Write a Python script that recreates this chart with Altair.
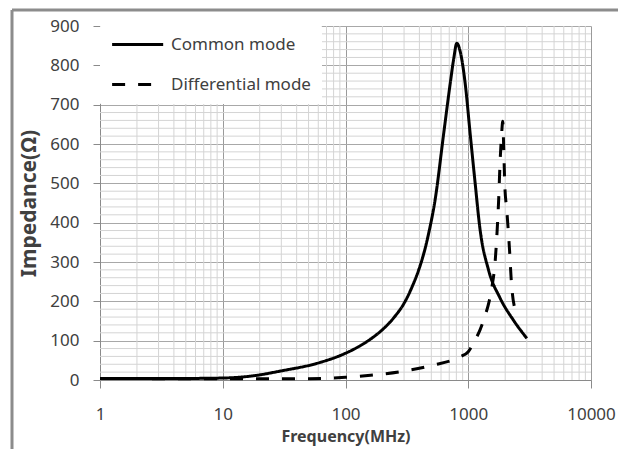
import altair as alt
import pandas as pd

# ---- data ----
cm_freq = [1, 2, 5, 10, 17, 31, 58, 100, 130, 160, 200, 250, 300, 350, 400, 450, 476, 537, 631, 713, 760, 807, 860, 944, 1036, 1130, 1250, 1462, 1819, 2335, 3000]
cm_z = [4, 4, 4, 5, 10, 24, 42, 68, 86, 104, 128, 160, 195, 238, 285, 340, 373, 458, 627, 754, 815, 856, 835, 754, 627, 510, 381, 280, 208, 152, 106]

dm_freq = [1, 10, 40, 100, 160, 280, 520, 860, 1000, 1130, 1250, 1370, 1480, 1560, 1660, 1720, 1770, 1820, 1870, 1910, 1945, 1985, 2060, 2170, 2240, 2410]
dm_z = [4, 3, 3, 7, 12, 21, 38, 59, 72, 100, 128, 163, 200, 237, 305, 381, 460, 560, 625, 658, 590, 495, 432, 330, 254, 178]

series_names = ["Common mode", "Differential mode"]

x_major = [1, 10, 100, 1000, 10000]
x_minor = [k * d for d in [1, 10, 100, 1000] for k in range(2, 10)]
y_major = list(range(0, 1000, 100))
y_minor = [v for v in range(20, 900, 20) if v % 100 != 0]

df = pd.concat([
    pd.DataFrame({"f": cm_freq, "z": cm_z, "mode": series_names[0]}),
    pd.DataFrame({"f": dm_freq, "z": dm_z, "mode": series_names[1]}),
])

FONT = "Noto Sans"
TXT = "#404040"

xscale = alt.Scale(type="log", domain=[1, 10000], nice=False)
yscale = alt.Scale(domain=[0, 900], nice=False, zero=True)

xaxis = alt.Axis(values=x_major, format="d", title="Frequency(MHz)",
                 grid=True, gridColor="#9a9a9a", domainColor="#8a8a8a",
                 tickColor="#8a8a8a", tickSize=8, labelPadding=18,
                 labelFont=FONT, labelFontSize=17, labelColor=TXT,
                 labelOverlap=False,
                 titleFont=FONT, titleFontSize=16, titleFontWeight="bold",
                 titleColor=TXT, titlePadding=6, labelFlush=False)
yaxis = alt.Axis(values=y_major, title="Impedance(Ω)",
                 grid=True, gridColor="#a8a8a8", domainColor="#8a8a8a",
                 tickColor="#8a8a8a", tickSize=7, labelPadding=14,
                 labelFont=FONT, labelFontSize=17, labelColor=TXT,
                 labelOverlap=False,
                 titleFont=FONT, titleFontSize=21, titleFontWeight="bold",
                 titleColor=TXT, titlePadding=10)

xgrid = alt.Chart(pd.DataFrame({"f": x_minor})).mark_rule(
    color="#d4d4d4", strokeWidth=1
).encode(x=alt.X("f:Q", scale=xscale, axis=xaxis))

ygrid = alt.Chart(pd.DataFrame({"z": y_minor})).mark_rule(
    color="#d4d4d4", strokeWidth=1
).encode(y=alt.Y("z:Q", scale=yscale, axis=yaxis))

# legend symbol: a horizontal line drawn right of the symbol centre
LEG_PATH = "M-1,0H7"

lines = alt.Chart(df).mark_line(
    color="black", strokeWidth=3, interpolate="monotone"
).encode(
    x=alt.X("f:Q", scale=xscale, axis=xaxis),
    y=alt.Y("z:Q", scale=yscale, axis=yaxis),
    strokeDash=alt.StrokeDash(
        "mode:N",
        scale=alt.Scale(domain=series_names, range=[[1, 0], [13, 13]]),
        legend=alt.Legend(title=None, orient="none", legendX=0, legendY=0,
                          symbolType=LEG_PATH, symbolSize=163, symbolStrokeWidth=3,
                          symbolStrokeColor="black", symbolFillColor="transparent",
                          labelFont=FONT, labelFontSize=17,
                          labelColor=TXT, labelOffset=44, fillColor="white",
                          padding=10, rowPadding=22, strokeColor="white"),
    ),
)

frame_left = alt.Chart().mark_rule(color="#8c8c8c", strokeWidth=3).encode(
    x=alt.value(-88), y=alt.value(-16), y2=alt.value(440))
frame_top = alt.Chart().mark_rule(color="#8c8c8c", strokeWidth=3).encode(
    x=alt.value(-88), x2=alt.value(540), y=alt.value(-16))

chart = alt.layer(xgrid, ygrid, lines, frame_left, frame_top).properties(
    width=491, height=354,
    autosize=alt.AutoSizeParams(type="none"),
    padding={"left": 100, "top": 26, "right": 27, "bottom": 69},
    background="white",
).configure_view(stroke=None)

chart.save("out.html", embed_options={"renderer": "svg", "actions": False})
